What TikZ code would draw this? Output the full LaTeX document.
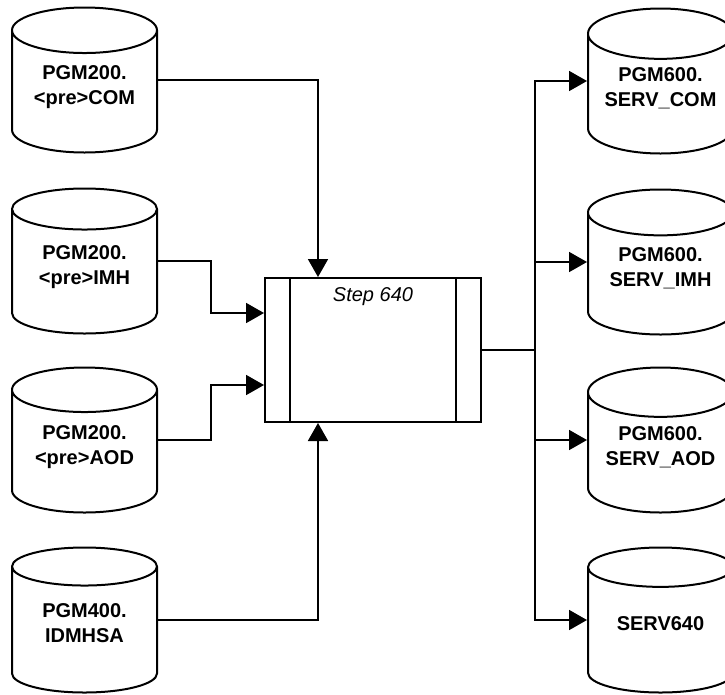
\documentclass[tikz,border=0pt]{standalone}
\usepackage{fontspec}
\setmainfont{Liberation Sans}
\usetikzlibrary{shapes.geometric,arrows.meta}
\begin{document}
\begin{tikzpicture}[x=1pt,y=-1pt,line width=2pt,
    db/.style={cylinder,shape border rotate=90,draw,aspect=0.45,
      minimum width=145pt,minimum height=145pt,inner sep=0pt,anchor=shape center,
      text depth=14pt,align=center,font=\bfseries\fontsize{20}{25}\selectfont},
    flow/.style={-{Triangle[length=18pt,width=20pt]},line width=1.8pt}]
          \useasboundingbox (0,0) rectangle (725,694);

          % inputs
          \node[db] (com) at (84.5,80)  {PGM200.\\<pre>COM};
          \node[db] (imh) at (84.5,261) {PGM200.\\<pre>IMH};
          \node[db] (aod) at (84.5,440) {PGM200.\\<pre>AOD};
          \node[db] (idm) at (84.5,620) {PGM400.\\IDMHSA};

          % outputs
          \node[db] (scom) at (660.5,81)  {PGM600.\\SERV\_COM};
          \node[db] (simh) at (660.5,262) {PGM600.\\SERV\_IMH};
          \node[db] (saod) at (660.5,440) {PGM600.\\SERV\_AOD};
          \node[db] (s640) at (660.5,620) {SERV640};

          \node[draw,minimum width=216pt,minimum height=144pt,
            label={[anchor=north,yshift=-6pt,font=\itshape\fontsize{20}{25}\selectfont]north:Step 640}]
            (step) at (373,350) {};
          \draw ([xshift=26pt]step.north west) -- ([xshift=26pt]step.south west);
          \draw ([xshift=-26pt]step.north east) -- ([xshift=-26pt]step.south east);

          \draw[flow] (com.shape center -| com.east) -| ([xshift=54pt]step.north west);
          \draw[flow] (imh.shape center -| imh.east) -- ++(53,0) |- ([yshift=37pt]step.west);
          \draw[flow] (aod.shape center -| aod.east) -- ++(53,0) |- ([yshift=-35pt]step.west);
          \draw[flow] (idm.shape center -| idm.east) -| ([xshift=54pt]step.south west);
          \foreach \o in {scom,simh,saod,s640}
            \draw[flow] (step.east) -- ++(53,0) |- (\o.shape center -| \o.west);

        \end{tikzpicture}
\end{document}
